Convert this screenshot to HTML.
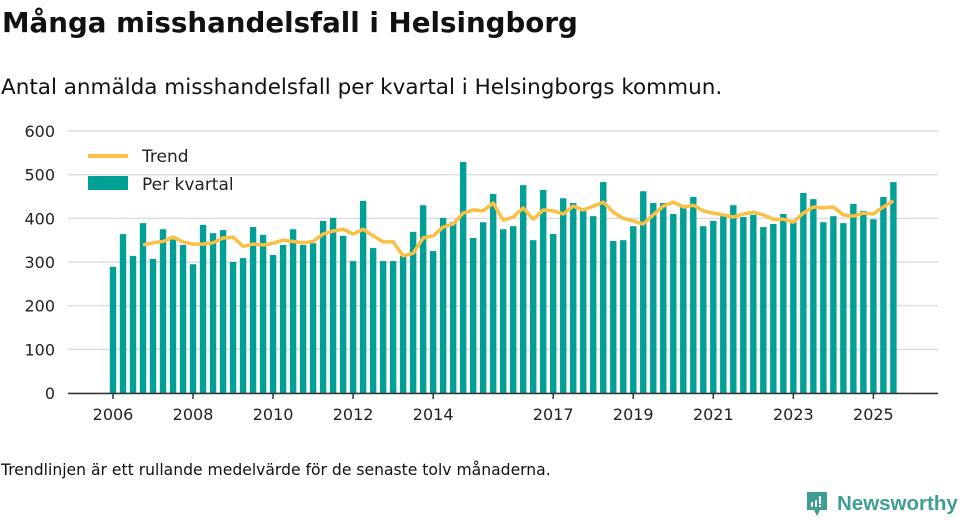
<!DOCTYPE html>
<html><head><meta charset="utf-8"><style>
body{margin:0;width:960px;height:520px;background:#fff;font-family:"DejaVu Sans","Liberation Sans",sans-serif;color:#111;overflow:hidden;position:relative}
.t{position:absolute;white-space:nowrap}
</style></head><body>
<div class="t" style="left:2px;top:6px;font-size:27.7px;font-weight:bold">Många misshandelsfall i Helsingborg</div>
<div class="t" style="left:1px;top:75px;font-size:21.5px">Antal anmälda misshandelsfall per kvartal i Helsingborgs kommun.</div>
<svg id="c" width="960" height="440" style="position:absolute;left:0;top:0;font-family:'DejaVu Sans','Liberation Sans',sans-serif"></svg>
<div class="t" style="left:1px;top:461px;font-size:15.6px">Trendlinjen är ett rullande medelvärde för de senaste tolv månaderna.</div>
<div style="position:absolute;left:805px;top:490px;display:flex;align-items:center">
<svg width="24" height="28"><path d="M2 2h20v18h-7l-3 6-3-6H2z" fill="#3e9e96"/><rect x="6" y="12" width="2" height="5" fill="#fff"/><rect x="10" y="10" width="2" height="7" fill="#fff"/><rect x="14" y="6" width="2" height="8" fill="#fff"/><rect x="14" y="15" width="2" height="2" fill="#fff"/></svg>
<span style="margin-left:8px;font-family:'Liberation Sans',sans-serif;font-size:20.5px;color:#3e9e96;font-weight:bold">Newsworthy</span></div>
<script>
const values=[289,364,314,389,307,375,352,339,295,385,366,373,300,309,380,362,316,339,375,339,343,394,401,360,302,440,332,302,302,314,369,430,325,401,391,529,355,391,456,375,382,476,350,465,364,446,435,417,405,483,348,350,382,462,435,435,410,430,449,382,394,405,430,403,408,380,387,410,391,458,444,391,405,389,433,417,398,449,483];
const trend=[null,null,null,339,344,347,357,346,341,341,344,355,357,336,341,339,343,350,347,344,347,364,371,375,364,375,360,346,346,314,320,355,360,380,387,412,419,417,435,396,403,424,398,419,417,410,428,419,428,437,414,400,394,387,408,428,437,426,430,417,412,408,403,410,414,408,398,398,391,412,426,424,426,408,405,412,410,426,440];
const yTicks=[0,100,200,300,400,500,600];
const xLabels=[["2006",0],["2008",8],["2010",16],["2012",24],["2014",32],["2017",44],["2019",52],["2021",60],["2023",68],["2025",76]];
const NS="http://www.w3.org/2000/svg",svg=document.getElementById('c');
const y=v=>393-v*262/600, x=i=>113+i*10.005;
function mk(t,a,p){const e=document.createElementNS(NS,t);for(const k in a)e.setAttribute(k,a[k]);(p||svg).appendChild(e);return e;}
yTicks.forEach(v=>{
 const g=mk('line',{x1:68,x2:938,y1:y(v),y2:y(v),stroke:'#ddd','stroke-width':1.5});
 
 
 const t=mk('text',{x:55,y:y(v)+6,'text-anchor':'end','font-size':16,fill:'#222'});t.textContent=v;
 
 
});
values.forEach((v,i)=>{
 const r=mk('rect',{x:x(i)-3.2,y:y(v),width:6.4,height:393-y(v),fill:'#00a096'});
 
 
});
let d='';trend.forEach((v,i)=>{if(v!=null)d+=(d?'L':'M')+x(i)+' '+y(v);});
const p=mk('path',{d:d,fill:'none',stroke:'#fbbf44','stroke-width':3.5,'stroke-linejoin':'round'});


const ax=mk('line',{x1:68,x2:938,y1:393.5,y2:393.5,stroke:'#333','stroke-width':1.5});


xLabels.forEach(([l,i])=>{
 mk('line',{x1:x(i),x2:x(i),y1:393,y2:399,stroke:'#333','stroke-width':1.5});
 const t=mk('text',{x:x(i),y:420,'text-anchor':'middle','font-size':16,fill:'#222'});t.textContent=l;
 
 
});
const lg=mk('g',{});


mk('line',{x1:88,x2:128,y1:156,y2:156,stroke:'#fbbf44','stroke-width':4},lg);
const t1=mk('text',{x:142,y:162,'font-size':17,fill:'#222'},lg);t1.textContent='Trend';


mk('rect',{x:88,y:176,width:40,height:14,fill:'#00a096'},lg);
const t2=mk('text',{x:142,y:190,'font-size':17,fill:'#222'},lg);t2.textContent='Per kvartal';


</script>
</body></html>
